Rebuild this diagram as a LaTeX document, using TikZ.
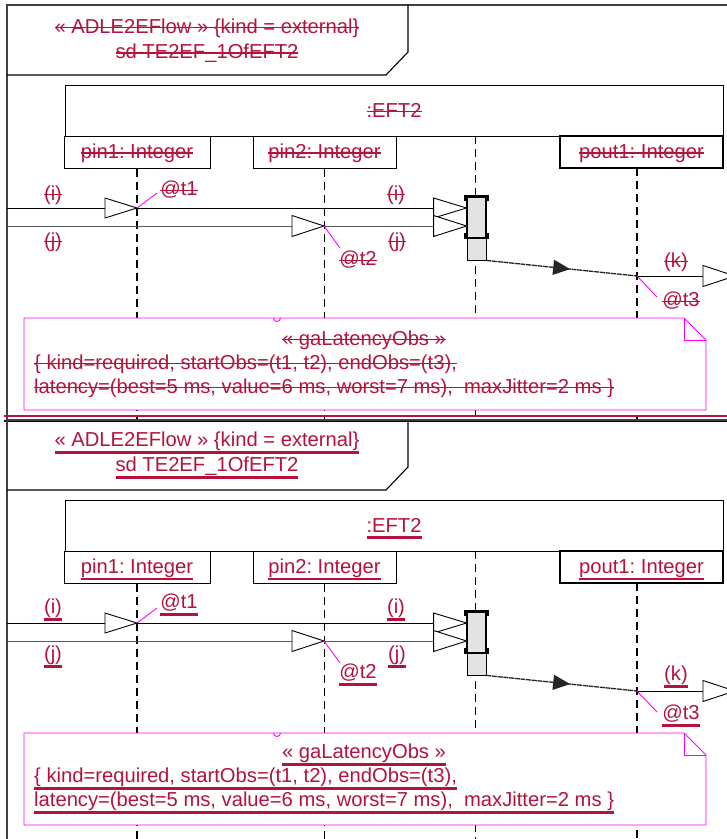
\documentclass[tikz,border=0pt]{standalone}
\usepackage{fontspec}
\setmainfont{Liberation Sans}
\usetikzlibrary{arrows.meta,decorations.markings}
\definecolor{txt}{RGB}{181,18,60}
\definecolor{mag}{RGB}{255,0,255}
\frenchspacing
\newsavebox\decobox
\newcommand\stk[1]{\sbox\decobox{#1}\rlap{\rule[4.8pt]{\wd\decobox}{1.6pt}}\usebox\decobox}
\newcommand\unl[1]{\sbox\decobox{#1}\rlap{\rule[-6.8pt]{\wd\decobox}{2.4pt}}\usebox\decobox}

\tikzset{
  lbl/.style={text=txt, font=\fontsize{20.2}{23}\selectfont, inner sep=0pt},
  boxn/.style={draw=black, line width=1pt, fill=white, inner sep=0pt, text=txt, font=\fontsize{20.2}{23}\selectfont, text height=17pt, text depth=4pt},
  lifeline/.style={draw=black, line width=1.8pt, dash pattern=on 8pt off 5pt},
  msgline/.style={draw=black, line width=0.9pt},
  headtri/.style={draw=black, line width=0.9pt, fill=white},
  timing/.style={draw=mag, line width=0.9pt},
  frameline/.style={draw=black!75, line width=1.4pt},
  hdrline/.style={draw=black, line width=1.1pt},
  notebox/.style={draw=mag, line width=0.9pt, fill=white},
  execbox/.style={draw=black, line width=0.9pt, fill=black!11, inner sep=0pt, minimum width=19pt, minimum height=64pt},
  reply/.style={draw=black!85, line width=1.3pt, dash pattern=on 5pt off 0.7pt, postaction=decorate,
    decoration={markings, mark=at position 0.556 with {\arrow{Triangle[length=17pt,width=15pt]}}}},
}

\newcommand\drawpanel[3]{%
  \coordinate (bot#1) at (0,#3);
  % frame and header
  \draw[frameline] (7,#3) -- (7,5) -- (727,5);
  \draw[hdrline] (7,75) -- (386,75) -- (408,52) -- (408,5);
  \node[lbl] (hA#1) at (207,28) {#2{« ADLE2EFlow » \{kind = external\}}};
  \node[lbl] (hB#1) at (207,53) {#2{sd TE2EF\_1OfEFT2}};
  % lifeline heads
  \node[boxn, minimum width=658pt, minimum height=51pt] (eft#1) at (394,110.5) {#2{:EFT2}};
  \node[boxn, minimum width=146pt, minimum height=32pt] (pin1#1) at (137,152) {#2{pin1: Integer}};
  \node[boxn, minimum width=143pt, minimum height=32pt] (pin2#1) at (324.5,152) {#2{pin2: Integer}};
  \node[boxn, line width=1.2pt, minimum width=163pt, minimum height=32pt] (pout#1) at (641.5,152) {#2{pout1: Integer}};
  \coordinate (lltop#1) at (475.5,136);
  \coordinate (poutll#1) at (637,168);
  % lifelines
  \draw[lifeline] (pin1#1.south) -- (pin1#1.south |- bot#1);
  \draw[lifeline] (pin2#1.south) -- (pin2#1.south |- bot#1);
  \draw[lifeline] (lltop#1) -- (lltop#1 |- bot#1);
  \draw[lifeline] (poutll#1) -- (poutll#1 |- bot#1);
  % execution specification
  \node[execbox] (exec#1) at (476.5,228) {};
  \draw[line width=1.6pt] (467,238) -- (467,196.5) -- (486,196.5) -- (486,238) -- cycle;
  \draw[line width=2.4pt] (465.5,201) -- (465.5,196.5) -- (487.5,196.5) -- (487.5,201);
  \draw[line width=2.4pt] (465.5,233) -- (465.5,238) -- (487.5,238) -- (487.5,233);
  % messages
  \coordinate (m1s#1) at (7,208);
  \coordinate (m2s#1) at (7,226);
  \coordinate (t1#1) at (137,208);
  \coordinate (t2#1) at (324,226);
  \coordinate (t3#1) at (637,276);
  \coordinate (kend#1) at (735,276);
  \draw[msgline] (m1s#1) -- (m1s#1 -| exec#1.west);
  \draw[msgline, draw=black!65] (m2s#1) -- (m2s#1 -| exec#1.west);
  \draw[headtri] (t1#1) -- ++(-32,-10) -- ++(0,20) -- cycle;
  \draw[headtri] (t2#1) -- ++(-32,-10.5) -- ++(0,21) -- cycle;
  \draw[headtri] (m1s#1 -| exec#1.west) -- ++(-33,-10) -- ++(0,20) -- cycle;
  \draw[headtri] (m2s#1 -| exec#1.west) -- ++(-33,-10.5) -- ++(0,21) -- cycle;
  \draw[reply] (exec#1.south east) -- (t3#1);
  \draw[msgline] (t3#1) -- (kend#1);
  \draw[headtri] (kend#1) -- ++(-32,-10.5) -- ++(0,21) -- cycle;
  % message labels
  \node[lbl] (li1#1) at (53,195) {#2{(i)}};
  \node[lbl] (lj1#1) at (53,242) {#2{(j)}};
  \node[lbl] (li2#1) at (396,195) {#2{(i)}};
  \node[lbl] (lj2#1) at (397,242) {#2{(j)}};
  \node[lbl] (lk#1) at (676,262) {#2{(k)}};
  % time observations
  \node[lbl] (at1#1) at (179,190) {#2{@t1}};
  \node[lbl] (at2#1) at (358,260) {#2{@t2}};
  \node[lbl] (at3#1) at (681,301) {#2{@t3}};
  \coordinate (e1#1) at (157,193);
  \coordinate (e2#1) at (340,248);
  \coordinate (e3#1) at (657,297);
  \draw[timing] (t1#1) -- (e1#1);
  \draw[timing] (t2#1) -- (e2#1);
  \draw[timing] (t3#1) -- (e3#1);
  % note
  \draw[notebox] (24,318) -- (684,318) -- (706,340) -- (706,410) -- (24,410) -- cycle;
  \draw[timing] (684,318) -- (684,340) -- (706,340);
  \draw[timing] (273.5,318) arc (180:0:3.5);
  \node[lbl] (nA#1) at (364,340) {#2{« gaLatencyObs »}};
  \node[lbl, anchor=west] (nB#1) at (34,364) {#2{\{ kind=required, startObs=(t1, t2), endObs=(t3),}};
  \node[lbl, anchor=west] (nC#1) at (34,388) {#2{latency=(best=5 ms, value=6 ms, worst=7 ms),\ \ maxJitter=2 ms \}}};
}

\begin{document}
\begin{tikzpicture}[x=1pt,y=-1pt]
\useasboundingbox (0,0) rectangle (727,839);
\clip (0,0) rectangle (727,839);
\fill[white] (0,0) rectangle (727,839);
\drawpanel{u}{\stk}{421}
\draw[draw=txt, line width=2.5pt] (4,416) -- (727,416);
\begin{scope}[yshift=-415pt]
\draw[draw=black, line width=2pt] (4,6) -- (727,6);
\drawpanel{l}{\unl}{424}
\end{scope}
\end{tikzpicture}
\end{document}
